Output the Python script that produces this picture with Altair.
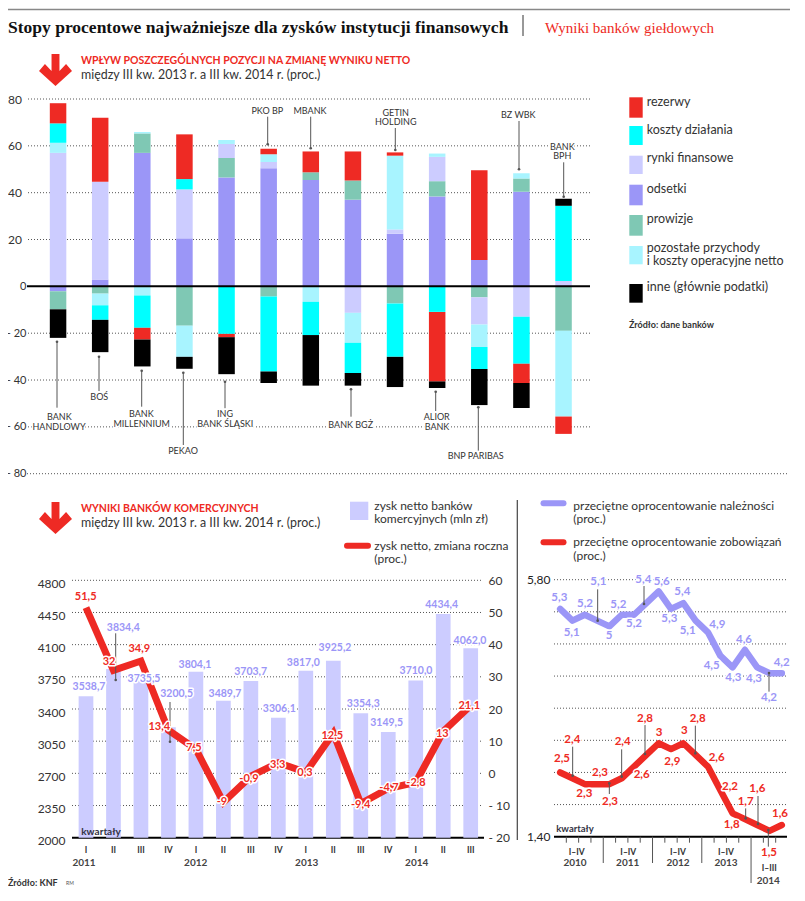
import altair as alt
import pandas as pd

# ---------- data ----------
BANKS = ["HANDLOWY", "BOS", "MILLENNIUM", "PEKAO", "ING", "PKO", "MBANK", "BGZ",
         "GETIN", "ALIOR", "BNP", "BZWBK", "BPH"]
ODSETKI = [-2.1, 2.9, 57, 20.5, 46.5, 50.4, 45.4, 37, 22.5, 38.4, 11.3, 40.4, 0]
PROWIZJE = [-7.7, -3.1, 8.3, -16.8, 8.3, -4.3, 3.3, 8.2, -7.3, 6.5, -4.7, 5.6, -19]
RYNKI = [57, 41.8, 0, 20.9, 6, 2.7, 0, -11.3, 1.8, 10.4, -11.6, -13, 2.3]
POZOSTALE = [4.3, -5, -3.9, -13.3, 1.7, 3.3, -6.6, -12.8, 31.5, 1.4, -9.6, 2.3, -36.6]
POZOSTALE_PLUS = [0, 0, 0.6, 0, 0, 0, 0, 0, 0, 0, 0, 0, 0]
KOSZTY = [8.3, -6.2, -13.8, 4.4, -20.3, -32.1, -14.2, -12.9, -22.8, -10.9, -9.4, -20.1, 32.1]
REZERWY = [8.6, 27.3, -5, 19.1, -1.4, 2.4, 8.9, 12.4, 1.4, -29.7, 38.3, -8.2, -7.4]
INNE = [-12.2, -13.8, -11.5, -5.1, -15.8, -4.9, -21.6, -5.4, -12.9, -2.8, -15.4, -10.6, 3]

QUARTERS = ["2011 I", "2011 II", "2011 III", "2011 IV", "2012 I", "2012 II", "2012 III", "2012 IV",
            "2013 I", "2013 II", "2013 III", "2013 IV", "2014 I", "2014 II", "2014 III"]
ZYSK = [3538.7, 3834.4, 3735.5, 3200.5, 3804.1, 3489.7, 3703.7, 3306.1,
        3817.0, 3925.2, 3354.3, 3149.5, 3710.0, 4434.4, 4062.0]
ZMIANA = [51.5, 32, 34.9, 13.4, 7.5, -9, -0.9, 3.3, 0.3, 12.5, -9.4, -4.7, -2.8, 13, 21.1]

Q19 = [f"{y} {q}" for y in (2010, 2011, 2012, 2013) for q in ("I", "II", "III", "IV")] + \
      ["2014 I", "2014 II", "2014 III"]
NALEZNOSCI = [5.3, 5.1, 5.2, 5.1, 5, 5.2, 5.2, 5.4, 5.6, 5.3, 5.4, 5.1, 4.9, 4.5, 4.3, 4.6, 4.3, 4.2, 4.2]
ZOBOWIAZANIA = [2.5, 2.4, 2.3, 2.3, 2.3, 2.4, 2.6, 2.8, 3, 2.9, 3, 2.8, 2.6, 2.2, 1.8, 1.7, 1.6, 1.5, 1.6]

RED = "#EE2A24"; CYAN = "#00FFFF"; LILAC = "#CCCCFF"; VIOLET = "#9B96F7"
GREEN = "#7FC8B4"; PALE = "#A8F4FF"; BLACK = "#000000"
FONT = "Lato"; W = 789; H = 880; M = 8
GRID = "#555555"
NEG_EXPR = "datum.value<0 ? '- '+abs(datum.value) : datum.value"


def text(rows, size=12, color="#333333", weight="normal", align="center", halo=False, font=FONT):
    """rows: (page x, page y, string)"""
    df = pd.DataFrame(rows, columns=["x", "y", "s"])
    df["x"] -= M
    df["y"] -= M
    enc = dict(x=alt.X("x:Q", scale=None, axis=None), y=alt.Y("y:Q", scale=None, axis=None), text="s:N")
    kw = dict(fontSize=size, font=font, fontWeight=weight, align=align, baseline="middle")
    out = []
    if halo:
        out.append(alt.Chart(df).mark_text(color="white", stroke="white", strokeWidth=3,
                                           strokeJoin="round", **kw).encode(**enc))
    out.append(alt.Chart(df).mark_text(color=color, **kw).encode(**enc))
    return out


def rules(rows, color="#555555", width=1.0, dash=None, cap=None):
    """rows: (x0, y0, x1, y1) in page pixels"""
    df = pd.DataFrame(rows, columns=["x0", "y0", "x1", "y1"]) - M
    kw = dict(color=color, strokeWidth=width)
    if dash:
        kw["strokeDash"] = dash
    if cap:
        kw["strokeCap"] = cap
    return alt.Chart(df).mark_rule(**kw).encode(
        x=alt.X("x0:Q", scale=None, axis=None), x2="x1:Q",
        y=alt.Y("y0:Q", scale=None, axis=None), y2="y1:Q")


def leaders(rows, color="#555555"):
    """rows: (x, y_from, y_to, y_dot)"""
    line = rules([(x, a, x, b) for x, a, b, _ in rows], color=color)
    df = pd.DataFrame([(x - M, d - M) for x, _, _, d in rows], columns=["x", "y"])
    dots = alt.Chart(df).mark_circle(size=7, color=color, opacity=1).encode(
        x=alt.X("x:Q", scale=None, axis=None), y=alt.Y("y:Q", scale=None, axis=None))
    return [line, dots]


ARROW = ("M0,0.97 L-1,0.06 L-0.64,-0.36 L-0.24,0.06 L-0.24,-0.97 L0.24,-0.97 "
         "L0.24,0.06 L0.64,-0.36 L1,0.06 Z")


def arrow(px, py):
    df = pd.DataFrame({"x": [px - M], "y": [py - M]})
    return alt.Chart(df).mark_point(shape=ARROW, size=1089, filled=True, color=RED, opacity=1,
                                    strokeWidth=0).encode(
        x=alt.X("x:Q", scale=None, axis=None), y=alt.Y("y:Q", scale=None, axis=None))


def swatches(rows):
    df = pd.DataFrame(rows, columns=["x0", "x1", "y0", "y1", "c"])
    for k in ("x0", "x1", "y0", "y1"):
        df[k] -= M
    return alt.Chart(df).mark_rect().encode(
        x=alt.X("x0:Q", scale=None, axis=None), x2="x1:Q",
        y=alt.Y("y0:Q", scale=None, axis=None), y2="y1:Q",
        color=alt.Color("c:N", scale=None, legend=None))


layers = []

# ---------- header ----------
layers.append(rules([(8, 9.5, 790, 9.5)], color="#888888", width=1.6))
layers += text([(8, 28, "Stopy procentowe najważniejsze dla zysków instytucji finansowych")],
               size=17.5, color="#111111", weight="bold", align="left", font="Liberation Serif")
layers.append(rules([(523, 15, 523, 36)], color="#333333", width=1))
layers += text([(545, 28, "Wyniki banków giełdowych")], size=15, color=RED, align="left",
               font="Liberation Serif")

# ---------- top panel ----------
layers.append(arrow(55.5, 70))
layers += text([(81, 61, "WPŁYW POSZCZEGÓLNYCH POZYCJI NA ZMIANĘ WYNIKU NETTO")],
               size=10.5, color=RED, weight="bold", align="left")
layers += text([(81, 75, "między III kw. 2013 r. a III kw. 2014 r. (proc.)")],
               size=12.4, color="#333333", align="left")

TOP_Y = alt.Scale(domain=[-80, 80], range=[473.7 - M, 99 - M], nice=False, zero=False)
TOP_X = alt.Scale(type="band", domain=BANKS, range=[37 - M, 584.6 - M], paddingInner=0, paddingOuter=0)

grid = pd.DataFrame({"v": [80, 60, 40, 20, -20, -40, -60]})
layers.append(alt.Chart(grid).mark_rule(color=GRID, strokeWidth=1, strokeDash=[1, 2]).encode(
    y=alt.Y("v:Q", scale=TOP_Y, axis=None), x=alt.value(28 - M), x2=alt.value(590 - M)))
layers.append(alt.Chart(pd.DataFrame({"v": [-80]})).mark_rule(color=GRID, strokeWidth=1, strokeDash=[1, 2]).encode(
    y=alt.Y("v:Q", scale=TOP_Y, axis=None), x=alt.value(27 - M), x2=alt.value(788 - M)))

SERIES = [("odsetki", ODSETKI), ("prowizje", PROWIZJE), ("rynki", RYNKI), ("pozostale", POZOSTALE),
          ("pozostale", POZOSTALE_PLUS), ("koszty", KOSZTY), ("rezerwy", REZERWY), ("inne", INNE)]
recs = []
for order, (name, vals) in enumerate(SERIES):
    for b, v in zip(BANKS, vals):
        if v != 0:
            recs.append({"bank": b, "cat": name, "v": v, "o": order})
layers.append(alt.Chart(pd.DataFrame(recs)).mark_bar(size=16.5).encode(
    x=alt.X("bank:N", scale=TOP_X, axis=None),
    y=alt.Y("v:Q", stack="zero", scale=TOP_Y,
            axis=alt.Axis(orient="left", offset=-(24.5 - M), values=[80, 60, 40, 20],
                          grid=False, domain=False, ticks=False, labelPadding=3, title=None,
                          labelFont=FONT, labelFontSize=12, labelColor="#333333")),
    color=alt.Color("cat:N", legend=None, scale=alt.Scale(
        domain=["odsetki", "prowizje", "rynki", "pozostale", "koszty", "rezerwy", "inne"],
        range=[VIOLET, GREEN, LILAC, PALE, CYAN, RED, BLACK])),
    order=alt.Order("o:Q")))
layers.append(alt.Chart(pd.DataFrame({"v": [0]})).mark_rule(color="#000000", strokeWidth=2).encode(
    y=alt.Y("v:Q", scale=TOP_Y, axis=alt.Axis(
        orient="left", offset=-(28 - M), values=[0, -20, -40, -60, -80], grid=False, domain=False,
        ticks=False, labelPadding=2, title=None, labelFont=FONT, labelFontSize=11, labelColor="#333333",
        labelExpr=NEG_EXPR)),
    x=alt.value(27 - M), x2=alt.value(590 - M)))

layers += leaders([
    (57, 341.7, 407.7, 341.7), (99, 356.7, 391, 356.7), (141.7, 370.7, 406.7, 370.7),
    (183.3, 372.7, 445, 372.7), (225, 381.7, 408.3, 381.7), (351, 389.3, 416.7, 389.3),
    (435.7, 391.7, 411, 391.7), (478.3, 407.3, 450.7, 407.3), (267.7, 116.7, 144.3, 144.3),
    (310.7, 116.7, 148.3, 148.3), (395.3, 128, 150, 150), (519, 121, 169.3, 169.3),
    (563.7, 162.3, 196.7, 196.7)])
layers += text([
    (59.3, 416.7, "BANK"), (59, 426.7, "HANDLOWY"), (99.3, 396.7, "BOŚ"), (141.3, 414, "BANK"),
    (141.7, 423.7, "MILLENNIUM"), (183, 450.7, "PEKAO"), (225, 414, "ING"), (225.3, 424, "BANK ŚLĄSKI"),
    (350.7, 425, "BANK BGŻ"), (436.7, 416.7, "ALIOR"), (437, 426.7, "BANK"), (475.7, 456, "BNP PARIBAS"),
    (267.3, 111, "PKO BP"), (310, 111, "MBANK"), (395.7, 112.7, "GETIN"), (395.7, 122.3, "HOLDING"),
    (518.3, 115, "BZ WBK"), (562.3, 146.7, "BANK"), (562.3, 156.3, "BPH")],
    size=9, color="#333333", halo=True)

layers.append(swatches([
    (629.3, 642.7, 97.3, 117.7, RED), (629.3, 642.7, 126, 145, CYAN), (629.3, 642.7, 155.7, 174, LILAC),
    (629.3, 642.7, 184.7, 205.3, VIOLET), (629.3, 642.7, 215, 235.7, GREEN),
    (629.3, 642.7, 246, 264.3, PALE), (629.3, 642.7, 284, 302.7, BLACK)]))
layers += text([
    (646.7, 102, "rezerwy"), (646.7, 130, "koszty działania"), (646.7, 157.7, "rynki finansowe"),
    (646.7, 188.7, "odsetki"), (646.7, 219, "prowizje"), (646.7, 247.7, "pozostałe przychody"),
    (646.7, 261, "i koszty operacyjne netto"), (646.7, 287.3, "inne (głównie podatki)")],
    size=12.5, color="#333333", align="left")
layers += text([(629, 325, "Źródło: dane banków")], size=9, color="#333333", weight="bold", align="left")

# ---------- bottom left panel ----------
layers.append(arrow(55.5, 518))
layers += text([(81, 509.3, "WYNIKI BANKÓW KOMERCYJNYCH")], size=10.5, color=RED, weight="bold", align="left")
layers += text([(81, 523.3, "między III kw. 2013 r. a III kw. 2014 r. (proc.)")], size=12.4,
               color="#333333", align="left")

BL_Y = alt.Scale(domain=[2000, 4800], range=[837.7 - M, 580.3 - M], nice=False, zero=False)
BL_R = alt.Scale(domain=[-20, 60], range=[837.7 - M, 580.3 - M], nice=False, zero=False)
BL_X = alt.Scale(type="band", domain=QUARTERS, range=[72.25 - M, 484.45 - M], paddingInner=0, paddingOuter=0)

grid = pd.DataFrame({"v": list(range(2350, 4801, 350))})
layers.append(alt.Chart(grid).mark_rule(color=GRID, strokeWidth=1, strokeDash=[1, 2]).encode(
    y=alt.Y("v:Q", scale=BL_Y, axis=None), x=alt.value(72 - M), x2=alt.value(482 - M)))
layers.append(alt.Chart(pd.DataFrame({"v": [2000]})).mark_rule(color="#000000", strokeWidth=2).encode(
    y=alt.Y("v:Q", scale=BL_Y, axis=None), x=alt.value(72 - M), x2=alt.value(484 - M)))

dfq = pd.DataFrame({"q": QUARTERS, "zysk": ZYSK, "base": [2000] * len(QUARTERS), "zmiana": ZMIANA})
layers.append(alt.Chart(dfq).mark_bar(size=14.7, color=LILAC).encode(
    x=alt.X("q:N", scale=BL_X, axis=alt.Axis(
        orient="bottom", offset=(838 - M) - H, domain=False, ticks=False, labelAngle=0, labelPadding=7,
        title=None, labelFont=FONT, labelFontSize=8.5, labelFontWeight="bold", labelColor="#333333",
        labelOverlap=False, labelExpr="split(datum.label,' ')[1]")),
    y=alt.Y("zysk:Q", scale=BL_Y, axis=alt.Axis(
        orient="left", offset=-(68 - M), values=list(range(2000, 4801, 350)), grid=False, domain=False,
        ticks=False, labelPadding=3, title=None, labelFont=FONT, labelFontSize=12, labelColor="#333333",
        format="d", labelOffset=3)),
    y2="base:Q"))
layers.append(alt.Chart(dfq).mark_line(color=RED, strokeWidth=7, strokeJoin="miter").encode(
    x=alt.X("q:N", scale=BL_X, axis=None),
    y=alt.Y("zmiana:Q", scale=BL_R, axis=alt.Axis(
        orient="right", offset=(482 - M) - W, values=list(range(-20, 61, 10)), grid=False, domain=False,
        ticks=False, labelPadding=6, title=None, labelFont=FONT, labelFontSize=12, labelColor="#333333",
        labelExpr=NEG_EXPR))))
layers += leaders([(115.7, 633.3, 680, 680), (170, 702, 741.7, 741.7)])
layers += text([
    (89, 687, "3538,7"), (123.3, 627.7, "3834,4"), (144, 678.7, "3735,5"), (176.7, 694.3, "3200,5"),
    (195, 665, "3804,1"), (225, 694.3, "3489,7"), (250.7, 672.3, "3703,7"), (279.3, 709.3, "3306,1"),
    (303.3, 662.7, "3817,0"), (335, 648, "3925,2"), (363.3, 704, "3354,3"), (386.7, 723.3, "3149,5"),
    (416, 671.3, "3710,0"), (441.7, 605, "4434,4"), (470, 641, "4062,0")],
    size=10.5, color=VIOLET, weight="bold", halo=True)
layers += text([
    (85.7, 597.3, "51,5"), (109, 661.7, "32"), (139.3, 649.3, "34,9"), (159.3, 726.7, "13,4"),
    (194, 747.7, "7,5"), (222, 802.3, "-9"), (249, 778.7, "-0,9"), (277.7, 765, "3,3"), (305, 772.7, "0,3"),
    (332.3, 736, "12,5"), (360.7, 805, "-9,4"), (389, 788.3, "-4,7"), (416, 782.7, "-2,8"),
    (442.3, 734, "13"), (469.3, 706, "21,1")],
    size=11, color=RED, weight="bold", halo=True)
layers += text([(101, 832, "kwartały")], size=10, color="#333344", weight="bold")
layers += text([(84, 862.7, "2011"), (195.7, 862.7, "2012"), (306.7, 862.7, "2013"), (416.7, 862.7, "2014")],
               size=10, color="#444444", weight="bold")
layers += text([(8, 883, "Źródło: KNF")], size=9, color="#333333", weight="bold", align="left")
layers += text([(66, 883, "RM")], size=5, color="#555555", align="left")

layers.append(swatches([(350, 368.3, 501.7, 520, LILAC)]))
layers += text([(374.3, 505.5, "zysk netto banków"), (374.3, 519, "komercyjnych (mln zł)"),
                (374.3, 545.7, "zysk netto, zmiana roczna"), (374.3, 559.3, "(proc.)")],
               size=12, color="#333333", align="left")
layers.append(rules([(347, 545.7, 368, 545.7)], color=RED, width=6, cap="round"))

layers.append(rules([(517.3, 500, 517.3, 840)], color="#444444", width=1.2))

# ---------- bottom right panel ----------
BR_Y = alt.Scale(domain=[1.4, 5.8], range=[836.7 - M, 579.7 - M], nice=False, zero=False)
BR_X = alt.Scale(type="band", domain=Q19, range=[554 - M, 788 - M], paddingInner=0, paddingOuter=0)
BR_I = alt.Scale(domain=[0, 19], range=[554 - M, 788 - M], nice=False, zero=False)

grid = pd.DataFrame({"v": [1.95, 2.5, 3.05, 3.6, 4.15, 4.7, 5.25, 5.8]})
layers.append(alt.Chart(grid).mark_rule(color=GRID, strokeWidth=1, strokeDash=[1, 2]).encode(
    y=alt.Y("v:Q", scale=BR_Y, axis=None), x=alt.value(554 - M), x2=alt.value(787 - M)))
layers.append(alt.Chart(pd.DataFrame({"v": [1.4]})).mark_rule(color="#000000", strokeWidth=2).encode(
    y=alt.Y("v:Q", scale=BR_Y, axis=alt.Axis(
        orient="left", offset=-(553 - M), values=[1.4, 5.8], grid=False, domain=False, ticks=False,
        labelPadding=3, title=None, labelFont=FONT, labelFontSize=12, labelColor="#222222",
        labelExpr="replace(format(datum.value,'.2f'),'.',',')")),
    x=alt.value(554 - M), x2=alt.value(787 - M)))

TICKS_SHORT = [1, 2, 3, 5, 6, 7, 9, 10, 11, 13, 14, 15, 17, 18]
TICKS_YEAR = [4, 8, 12]
TICKS_LAST = [16]
for idx, bottom in ((TICKS_SHORT, 842.7), (TICKS_YEAR, 863), (TICKS_LAST, 883)):
    layers.append(alt.Chart(pd.DataFrame({"i": idx})).mark_rule(color="#555555", strokeWidth=1).encode(
        x=alt.X("i:Q", scale=BR_I, axis=None), y=alt.value(836.7 - M), y2=alt.value(bottom - M)))

dfr = pd.DataFrame({"q": Q19, "a": NALEZNOSCI, "b": ZOBOWIAZANIA})
for field, col in (("a", VIOLET), ("b", RED)):
    layers.append(alt.Chart(dfr).mark_line(color=col, strokeWidth=6.5, strokeJoin="round", strokeCap="round").encode(
        x=alt.X("q:N", scale=BR_X, axis=None),
        y=alt.Y(f"{field}:Q", scale=BR_Y, axis=None)))


def zx(x):
    return 515 + x / 3


def zy(y):
    return 490 + y / 3


layers += leaders([(zx(x), zy(a), zy(b), zy(d)) for x, a, b, d in [
    (248, 298, 392, 392), (387, 288, 342, 342), (762, 549, 605, 549), (173, 770, 857, 857),
    (283, 880, 912, 880), (320, 778, 860, 860), (390, 705, 792, 792), (541, 707, 790, 790),
    (692, 955, 985, 985), (729, 918, 1002, 1002), (760, 1020, 1070, 1020)]])
BLUE_LBL = [(133, 323, "5,3"), (170, 428, "5,1"), (210, 342, "5,2"), (250, 275, "5,1"), (282, 437, "5"),
            (310, 344, "5,2"), (357, 403, "5,2"), (385, 270, "5,4"), (440, 275, "5,6"), (463, 388, "5,3"),
            (502, 307, "5,4"), (518, 423, "5,1"), (607, 406, "4,9"), (590, 528, "4,5"), (655, 563, "4,3"),
            (687, 451, "4,6"), (717, 566, "4,3"), (762, 625, "4,2"), (800, 518, "4,2")]
RED_LBL = [(141, 808, "2,5"), (172, 750, "2,4"), (208, 912, "2,3"), (255, 850, "2,3"), (285, 935, "2,3"),
           (323, 757, "2,4"), (380, 855, "2,6"), (390, 686, "2,8"), (432, 728, "3"), (472, 815, "2,9"),
           (508, 724, "3"), (548, 688, "2,8"), (605, 805, "2,6"), (645, 892, "2,2"), (650, 1005, "1,8"),
           (692, 937, "1,7"), (727, 897, "1,6"), (795, 973, "1,6"), (762, 1090, "1,5")]
layers += text([(zx(x), zy(y), s) for x, y, s in BLUE_LBL], size=11.5, color=VIOLET, weight="bold", halo=True)
layers += text([(zx(x), zy(y), s) for x, y, s in RED_LBL], size=11.5, color=RED, weight="bold", halo=True)
layers += text([(575, 829.3, "kwartały")], size=9.5, color="#333344", weight="bold")
layers += text([(576.7, 851.7, "I–IV"), (628.3, 851.7, "I–IV"), (678, 851.7, "I–IV"), (726, 851.7, "I–IV"),
                (769.3, 868.3, "I–III")], size=8.5, color="#333333", weight="bold")
layers += text([(575, 862.7, "2010"), (627.7, 862.7, "2011"), (678, 862.7, "2012"), (726, 862.7, "2013"),
                (768.3, 880.7, "2014")], size=10, color="#444444", weight="bold")

layers.append(rules([(543.5, 503.3, 563.5, 503.3)], color=VIOLET, width=6, cap="round"))
layers.append(rules([(543.5, 542.3, 563.5, 542.3)], color=RED, width=6, cap="round"))
layers += text([(573.3, 506, "przeciętne oprocentowanie należności"), (573.3, 519.3, "(proc.)"),
                (573.3, 541.7, "przeciętne oprocentowanie zobowiązań"), (573.3, 555.7, "(proc.)")],
               size=12, color="#333333", align="left")

chart = alt.layer(*layers).resolve_scale(
    x="independent", y="independent", color="independent"
).resolve_axis(x="independent", y="independent").properties(
    width=W, height=H, padding=0, autosize=alt.AutoSizeParams(type="none"), background="white"
).configure_view(stroke=None)

chart.save("out.html", embed_options={"renderer": "svg", "actions": False})
